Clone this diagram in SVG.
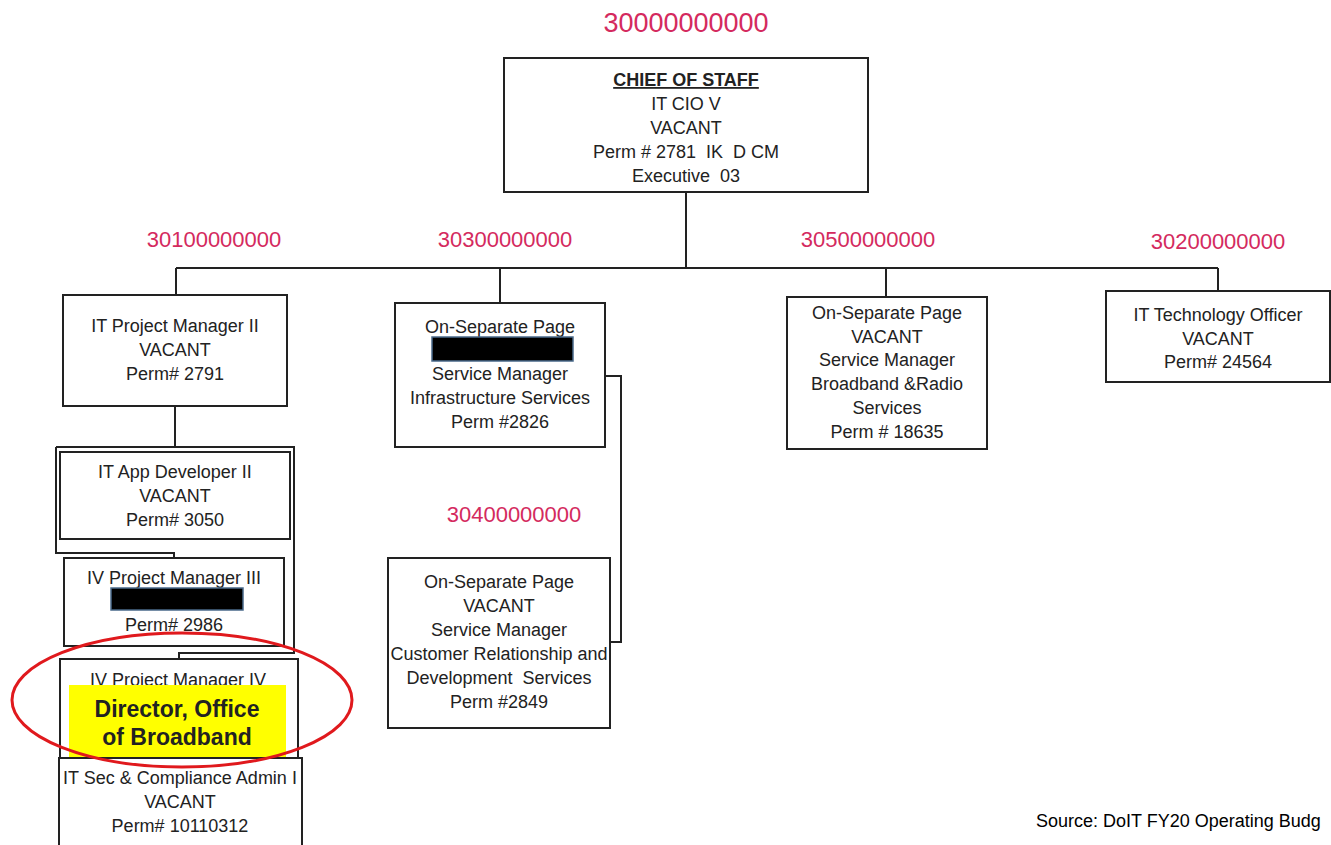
<svg xmlns="http://www.w3.org/2000/svg" width="1331" height="845" viewBox="0 0 1331 845">
<style>
.box{fill:#fff;stroke:#222;stroke-width:2}
.ln{fill:none;stroke:#222;stroke-width:2}
.t{font-family:"Liberation Sans",Arial,sans-serif;font-size:18px;fill:#222;text-anchor:middle;white-space:pre}
.code{font-family:"Liberation Sans",Arial,sans-serif;font-size:22px;fill:#d42a5e;text-anchor:middle}
.red{fill:#000;stroke:#4a6a8a;stroke-width:1.5}
</style>
<rect width="1331" height="845" fill="#fff"/>
<g id="codes">
<text class="code" x="686" y="32" style="font-size:27px">30000000000</text>
<text class="code" x="214" y="247">30100000000</text>
<text class="code" x="505" y="247">30300000000</text>
<text class="code" x="868" y="247">30500000000</text>
<text class="code" x="1218" y="249">30200000000</text>
<text class="code" x="514" y="522">30400000000</text>
</g>
<g id="connectors">
<path class="ln" d="M686 192V268M176 268H1218M176 268V295M500 268V303M886 268V297M1218 268V291"/>
<path class="ln" d="M175 406V447"/>
<path class="ln" d="M605 376H621V642H610"/>
<path class="ln" d="M56 447H294V653H179V659M56 447V553H174V558"/>
</g>
<g id="chief">
<rect class="box" x="504" y="58" width="364" height="134"/>
<text class="t" x="686" y="86" font-weight="bold" text-decoration="underline">CHIEF OF STAFF</text>
<text class="t" x="686" y="110">IT CIO V</text>
<text class="t" x="686" y="134">VACANT</text>
<text class="t" x="686" y="158" xml:space="preserve">Perm # 2781  IK  D CM</text>
<text class="t" x="686" y="182" xml:space="preserve">Executive  03</text>
</g>
<g id="pm2">
<rect class="box" x="63" y="295" width="224" height="111"/>
<text class="t" x="175" y="332">IT Project Manager II</text>
<text class="t" x="175" y="356">VACANT</text>
<text class="t" x="175" y="380">Perm# 2791</text>
</g>
<g id="appdev">
<rect class="box" x="60" y="452" width="230" height="87"/>
<text class="t" x="175" y="478">IT App Developer II</text>
<text class="t" x="175" y="502">VACANT</text>
<text class="t" x="175" y="526">Perm# 3050</text>
</g>
<g id="pm3">
<rect class="box" x="64" y="558" width="220" height="88"/>
<text class="t" x="174" y="584">IV Project Manager III</text>
<rect class="red" x="111" y="588" width="132" height="22"/>
<text class="t" x="174" y="631">Perm# 2986</text>
</g>
<g id="pm4">
<rect class="box" x="60" y="659" width="238" height="100"/>
<text class="t" x="178" y="686">IV Project Manager IV</text>
<rect x="69" y="685" width="217" height="75" fill="#ffff00"/>
<text class="t" x="177" y="717" style="font-size:23px;font-weight:bold">Director, Office</text>
<text class="t" x="177" y="745" style="font-size:23px;font-weight:bold">of Broadband</text>
</g>
<g id="itsec">
<rect class="box" x="59" y="758" width="243" height="100"/>
<text class="t" x="180" y="784">IT Sec &amp; Compliance Admin I</text>
<text class="t" x="180" y="808">VACANT</text>
<text class="t" x="180" y="832">Perm# 10110312</text>
</g>
<g id="infra">
<rect class="box" x="395" y="303" width="210" height="144"/>
<text class="t" x="500" y="333">On-Separate Page</text>
<rect class="red" x="432" y="337" width="141" height="24"/>
<text class="t" x="500" y="380">Service Manager</text>
<text class="t" x="500" y="404">Infrastructure Services</text>
<text class="t" x="500" y="428">Perm #2826</text>
</g>
<g id="crd">
<rect class="box" x="388" y="558" width="222" height="170"/>
<text class="t" x="499" y="588">On-Separate Page</text>
<text class="t" x="499" y="612">VACANT</text>
<text class="t" x="499" y="636">Service Manager</text>
<text class="t" x="499" y="660">Customer Relationship and</text>
<text class="t" x="499" y="684" xml:space="preserve">Development  Services</text>
<text class="t" x="499" y="708">Perm #2849</text>
</g>
<g id="broadband">
<rect class="box" x="787" y="297" width="200" height="152"/>
<text class="t" x="887" y="319">On-Separate Page</text>
<text class="t" x="887" y="343">VACANT</text>
<text class="t" x="887" y="366">Service Manager</text>
<text class="t" x="887" y="390">Broadband &amp;Radio</text>
<text class="t" x="887" y="414">Services</text>
<text class="t" x="887" y="438">Perm # 18635</text>
</g>
<g id="techofficer">
<rect class="box" x="1106" y="291" width="224" height="91"/>
<text class="t" x="1218" y="321">IT Technology Officer</text>
<text class="t" x="1218" y="345">VACANT</text>
<text class="t" x="1218" y="368">Perm# 24564</text>
</g>
<ellipse cx="182" cy="700" rx="170" ry="67" fill="none" stroke="#e0191d" stroke-width="3"/>
<text x="1036" y="827" style="font-family:'Liberation Sans',Arial,sans-serif;font-size:18px;fill:#000">Source: DoIT FY20 Operating Budg</text>
</svg>
